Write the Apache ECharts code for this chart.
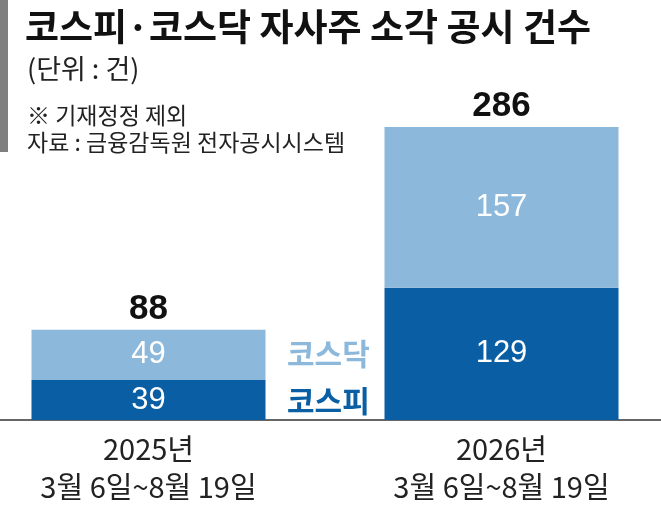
<!DOCTYPE html>
<html><head><meta charset="utf-8">
<script src="https://cdn.jsdelivr.net/npm/echarts@6/dist/echarts.min.js"></script>
<style>html,body{margin:0;padding:0;background:#fff}#c{width:661px;height:508px}</style>
</head><body><div id="c"></div>
<script>
const categories = ['2025년\n3월 6일~8월 19일', '2026년\n3월 6일~8월 19일'];
const kospi = [39, 129];
const kosdaq = [49, 157];
const totals = [88, 286];
const seriesNames = ['코스피', '코스닥'];

const KR = "'Noto Sans CJK KR', 'Noto Sans', sans-serif";
const NUM = "'Liberation Sans Narrow', 'Liberation Sans', Arial, sans-serif";
const DARK = '#0a5fa4', LIGHT = '#8cb9db';

const chart = echarts.init(document.getElementById('c'), null, {renderer: 'canvas'});
chart.setOption({
  animation: false,
  backgroundColor: '#fff',
  graphic: [{type: 'rect', left: 0, top: 0, shape: {width: 8, height: 152}, style: {fill: '#7f7f7f'}}],
  title: [
    {text: '코스피·코스닥 자사주 소각 공시 건수', left: 20, top: 3,
     textStyle: {fontFamily: KR, fontSize: 37, fontWeight: 'bold', color: '#111', lineHeight: 38}},
    {text: '(단위 : 건)', left: 22, top: 49,
     textStyle: {fontFamily: KR, fontSize: 27, fontWeight: 'normal', color: '#222', lineHeight: 30}},
    {text: '※ 기재정정 제외', left: 22, top: 96,
     textStyle: {fontFamily: KR, fontSize: 23, fontWeight: 'normal', color: '#222', lineHeight: 28}},
    {text: '자료 : 금융감독원 전자공시시스템', left: 22, top: 123,
     textStyle: {fontFamily: KR, fontSize: 23, fontWeight: 'normal', color: '#222', lineHeight: 28}}
  ],
  legend: {
    orient: 'vertical', left: 277, top: 333, itemGap: 15,
    icon: 'none', itemWidth: 0, itemHeight: 0,
    selectedMode: false,
    data: [
      {name: seriesNames[1], textStyle: {color: LIGHT}},
      {name: seriesNames[0], textStyle: {color: DARK}}
    ],
    textStyle: {fontFamily: KR, fontSize: 30, fontWeight: 'bold', lineHeight: 32}
  },
  grid: {left: -28, right: -17, top: 127, bottom: 88, containLabel: false, outerBoundsMode: 'none'},
  xAxis: {
    type: 'category', data: categories,
    axisLine: {show: true, lineStyle: {color: '#333', width: 1.5}},
    axisTick: {show: false},
    axisLabel: {margin: 10, fontFamily: KR, fontSize: 29, color: '#222', lineHeight: 38, interval: 0}
  },
  yAxis: {type: 'value', min: 0, max: 286, show: false, splitLine: {show: false}},
  series: [
    {name: seriesNames[0], type: 'bar', stack: 't', data: kospi, barWidth: 234,
     itemStyle: {color: DARK},
     label: {show: true, position: 'inside', color: '#fff', fontFamily: NUM, fontSize: 31}},
    {name: seriesNames[1], type: 'bar', stack: 't', data: kosdaq, barWidth: 234,
     itemStyle: {color: LIGHT},
     label: {show: true, position: 'inside', color: '#fff', fontFamily: NUM, fontSize: 31}},
    {name: 'total', type: 'bar', stack: 't', data: totals.map(() => 0), barWidth: 234,
     itemStyle: {color: 'transparent'},
     label: {show: true, position: 'top', distance: 3, color: '#111', fontFamily: NUM, fontSize: 35, fontWeight: 'bold',
       formatter: p => String(totals[p.dataIndex])}}
  ]
});
</script></body></html>
